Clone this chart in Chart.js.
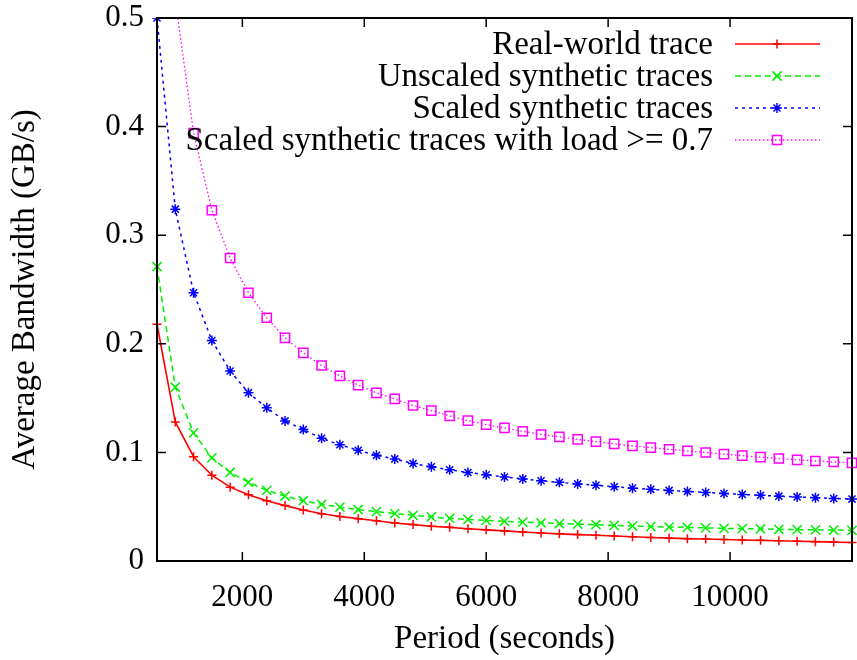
<!DOCTYPE html>
<html>
<head>
<meta charset="utf-8">
<script src="https://cdn.jsdelivr.net/npm/chart.js@4.4.0/dist/chart.umd.min.js"></script>
<style>
  html, body { margin: 0; padding: 0; background: #fff; overflow: hidden; }
  canvas { display: block; }
</style>
</head>
<body>
<canvas id="bandwidth" width="860" height="660"></canvas>
<script>
// period in seconds, one point every 300 s
const periods = [600, 900, 1200, 1500, 1800, 2100, 2400, 2700, 3000, 3300, 3600, 3900, 4200,
  4500, 4800, 5100, 5400, 5700, 6000, 6300, 6600, 6900, 7200, 7500, 7800, 8100, 8400, 8700,
  9000, 9300, 9600, 9900, 10200, 10500, 10800, 11100, 11400, 11700, 12000];

// average bandwidth, GB/s
const realWorld = [0.218, 0.128, 0.096, 0.079, 0.068, 0.061, 0.0555, 0.051, 0.047, 0.0435,
  0.041, 0.039, 0.037, 0.035, 0.0335, 0.032, 0.031, 0.0297, 0.0287, 0.0277, 0.0267, 0.0258,
  0.025, 0.0243, 0.0237, 0.023, 0.0223, 0.0217, 0.0211, 0.0206, 0.0202, 0.0198, 0.0194,
  0.019, 0.0186, 0.0182, 0.0178, 0.0174, 0.0171];
const unscaled = [0.271, 0.160, 0.118, 0.095, 0.0815, 0.0725, 0.065, 0.0598, 0.0555, 0.0522,
  0.0496, 0.0474, 0.0455, 0.0437, 0.0421, 0.0406, 0.0393, 0.0383, 0.0374, 0.0366, 0.0358,
  0.0351, 0.0345, 0.0339, 0.0334, 0.0328, 0.0322, 0.0317, 0.0313, 0.0309, 0.0305, 0.0301,
  0.0298, 0.0295, 0.0292, 0.0289, 0.0287, 0.0285, 0.0283];
const scaled = [0.500, 0.324, 0.247, 0.203, 0.175, 0.155, 0.141, 0.129, 0.121, 0.113, 0.107,
  0.102, 0.0973, 0.094, 0.0898, 0.0868, 0.084, 0.0815, 0.0794, 0.0774, 0.0756, 0.0739,
  0.0724, 0.071, 0.0697, 0.0684, 0.0671, 0.066, 0.065, 0.064, 0.0631, 0.0622, 0.0613,
  0.0605, 0.0597, 0.059, 0.0583, 0.0576, 0.057];
const scaledLoad = [0.79, 0.517, 0.394, 0.323, 0.279, 0.247, 0.224, 0.2055, 0.1916, 0.180,
  0.1704, 0.162, 0.1548, 0.1492, 0.1432, 0.1385, 0.1335, 0.1292, 0.1256, 0.1225, 0.1195,
  0.1165, 0.1143, 0.112, 0.110, 0.1079, 0.106, 0.1044, 0.1029, 0.1014, 0.0999, 0.0984,
  0.097, 0.0956, 0.0944, 0.0932, 0.0921, 0.0912, 0.0904];

const seriesNames = ['Real-world trace', 'Unscaled synthetic traces', 'Scaled synthetic traces',
  'Scaled synthetic traces with load >= 0.7'];
const xTicks = [2000, 4000, 6000, 8000, 10000];
const yTicks = [0, 0.1, 0.2, 0.3, 0.4, 0.5];
const yTickLabels = ['0', '0.1', '0.2', '0.3', '0.4', '0.5'];

const FONT = '"Liberation Serif", "DejaVu Serif", serif';

// gnuplot-like look for each series
const looks = [
  { color: '#ff0000', dash: [], point: 'cross', radius: 4.5, width: 1.6 },
  { color: '#00ee00', dash: [6, 4], point: 'crossRot', radius: 6.5, width: 1.5 },
  { color: '#0000ff', dash: [3, 4], point: 'star', radius: 5, width: 1.5 },
  { color: '#ff00ff', dash: [1.5, 2.5], point: 'rect', radius: 6.5, width: 1.3 },
];

const toPoints = vals => periods.map((p, i) => ({ x: p, y: vals[i] }));

const datasets = [realWorld, unscaled, scaled, scaledLoad].map((vals, i) => ({
  label: seriesNames[i],
  data: toPoints(vals),
  borderColor: looks[i].color,
  backgroundColor: 'transparent',
  borderWidth: looks[i].width,
  borderDash: looks[i].dash,
  pointStyle: looks[i].point,
  pointRadius: looks[i].radius,
  pointBorderWidth: 1.5,
  pointBorderColor: looks[i].color,
  pointBackgroundColor: 'transparent',
  tension: 0,
  clip: { left: 10, right: 10, top: 0, bottom: 10 },
}));

// box around the plot with inward ticks on all four sides
const frame = {
  id: 'frame',
  afterDatasetsDraw(chart) {
    const { ctx, chartArea: a, scales: { x, y } } = chart;
    ctx.save();
    ctx.strokeStyle = '#000';
    ctx.lineWidth = 1.5;
    ctx.setLineDash([]);
    ctx.beginPath();
    xTicks.forEach(v => {
      const px = x.getPixelForValue(v);
      ctx.moveTo(px, a.bottom); ctx.lineTo(px, a.bottom - 9);
      ctx.moveTo(px, a.top); ctx.lineTo(px, a.top + 9);
    });
    yTicks.forEach(v => {
      const py = y.getPixelForValue(v);
      ctx.moveTo(a.left, py); ctx.lineTo(a.left + 9, py);
      ctx.moveTo(a.right, py); ctx.lineTo(a.right - 9, py);
    });
    ctx.stroke();
    ctx.lineWidth = 2;
    ctx.strokeRect(a.left, a.top, a.width, a.height);
    ctx.restore();
  }
};

// key in the top right corner: text, then line sample with marker
const key = {
  id: 'key',
  afterDraw(chart) {
    const ctx = chart.ctx;
    ctx.save();
    ctx.font = '33px ' + FONT;
    ctx.textAlign = 'right';
    ctx.textBaseline = 'middle';
    chart.data.datasets.forEach((ds, i) => {
      const rowY = 44 + i * 32;
      ctx.fillStyle = '#000';
      ctx.fillText(ds.label, 713, rowY + 1);
      ctx.strokeStyle = ds.borderColor;
      ctx.lineWidth = ds.borderWidth;
      ctx.setLineDash(ds.borderDash);
      ctx.beginPath();
      ctx.moveTo(735, rowY); ctx.lineTo(820, rowY);
      ctx.stroke();
      ctx.setLineDash([]);
      ctx.lineWidth = ds.pointBorderWidth;
      ctx.fillStyle = 'transparent';
      Chart.helpers.drawPoint(ctx, {
        pointStyle: ds.pointStyle, radius: ds.pointRadius, rotation: 0, borderWidth: ds.pointBorderWidth
      }, 777, rowY);
    });
    ctx.restore();
  }
};

new Chart(document.getElementById('bandwidth'), {
  type: 'line',
  data: { datasets },
  plugins: [frame, key],
  options: {
    responsive: false,
    animation: false,
    devicePixelRatio: 1,
    layout: { padding: { top: 18, right: 1, left: 0, bottom: 0 } },
    plugins: { legend: { display: false }, tooltip: { enabled: false } },
    scales: {
      x: {
        type: 'linear',
        min: 600,
        max: 12000,
        grid: { display: false, drawTicks: false },
        border: { display: false },
        afterBuildTicks: s => { s.ticks = xTicks.map(v => ({ value: v })); },
        afterFit: s => { s.paddingLeft = 0; s.paddingRight = 0; },
        ticks: {
          padding: 28,
          color: '#000',
          autoSkip: false,
          maxRotation: 0,
          font: { family: FONT, size: 31, lineHeight: 0.6 },
          callback: v => String(v),
        },
        title: {
          display: true,
          text: 'Period (seconds)',
          color: '#000',
          font: { family: FONT, size: 33, lineHeight: 0.8 },
          padding: { top: -9, bottom: 7 },
        },
      },
      y: {
        min: 0,
        max: 0.5,
        grid: { display: false, drawTicks: false },
        border: { display: false },
        afterBuildTicks: s => { s.ticks = yTicks.map(v => ({ value: v })); },
        afterFit: s => { s.width = 157; s.paddingTop = 0; s.paddingBottom = 0; },
        ticks: {
          padding: 13,
          color: '#000',
          font: { family: FONT, size: 31 },
          callback: (v, i) => yTickLabels[i],
        },
        title: {
          display: true,
          text: 'Average Bandwidth (GB/s)',
          color: '#000',
          font: { family: FONT, size: 33 },
          padding: { top: 6, bottom: 0 },
        },
      },
    },
  },
});
</script>
</body>
</html>
